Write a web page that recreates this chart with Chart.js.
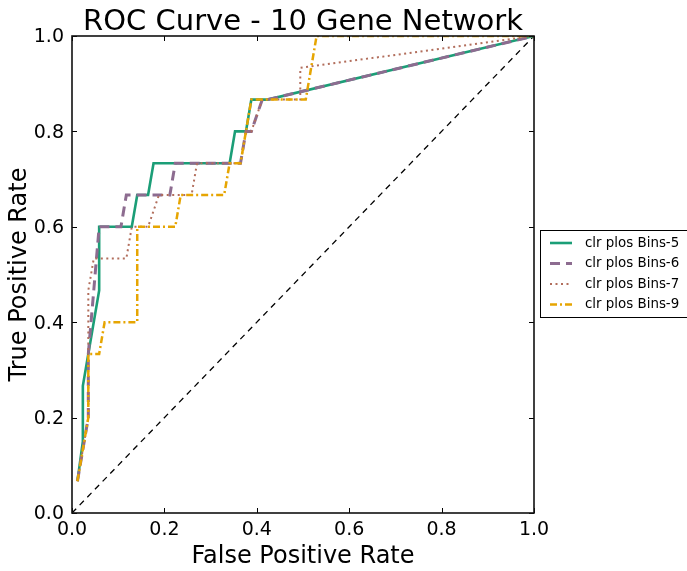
<!DOCTYPE html>
<html><head><meta charset="utf-8">
<script src="https://cdn.jsdelivr.net/npm/chart.js@4.4.0/dist/chart.umd.min.js"></script>
<style>html,body{margin:0;padding:0;background:#fff;}#wrap{width:687px;height:571px;}</style>
</head><body><div id="wrap"><canvas id="c" width="687" height="571"></canvas></div>
<script>
const titleText = 'ROC Curve - 10 Gene Network';
const xLabel = 'False Positive Rate';
const yLabel = 'True Positive Rate';
const seriesNames = ['clr plos Bins-5', 'clr plos Bins-6', 'clr plos Bins-7', 'clr plos Bins-9'];
const tickValues = [0, 0.2, 0.4, 0.6, 0.8, 1.0];

const fprBins5 = [0.0118, 0.0235, 0.0235, 0.0588, 0.0588, 0.1294, 0.1412, 0.1647, 0.1765, 0.3412, 0.3529, 0.3765, 0.3882, 0.4235, 1.0];
const tprBins5 = [0.0667, 0.15, 0.2667, 0.4667, 0.6, 0.6, 0.6667, 0.6667, 0.7333, 0.7333, 0.8, 0.8, 0.8667, 0.8667, 1.0];

const fprBins6 = [0.0118, 0.0353, 0.0353, 0.0471, 0.0588, 0.1059, 0.1176, 0.2118, 0.2235, 0.3647, 0.3765, 0.3882, 0.4118, 0.4235, 1.0];
const tprBins6 = [0.0667, 0.2, 0.3333, 0.4667, 0.6, 0.6, 0.6667, 0.6667, 0.7333, 0.7333, 0.8, 0.8, 0.8667, 0.8667, 1.0];

const fprBins7 = [0.0118, 0.0353, 0.0353, 0.0471, 0.1176, 0.1294, 0.1647, 0.1882, 0.2588, 0.2706, 0.3647, 0.3765, 0.3882, 0.4118, 0.4941, 0.4941, 1.0];
const tprBins7 = [0.0667, 0.2, 0.4667, 0.5333, 0.5333, 0.6, 0.6, 0.6667, 0.6667, 0.7333, 0.7333, 0.8, 0.8, 0.8667, 0.8667, 0.9333, 1.0];

const fprBins9 = [0.0118, 0.0353, 0.0353, 0.0588, 0.0706, 0.1412, 0.1412, 0.2235, 0.2353, 0.3294, 0.3412, 0.3647, 0.3765, 0.3882, 0.5059, 0.5294, 1.0];
const tprBins9 = [0.0667, 0.2, 0.3333, 0.3333, 0.4, 0.4, 0.6, 0.6, 0.6667, 0.6667, 0.7333, 0.7333, 0.8, 0.8667, 0.8667, 1.0, 1.0];

const chanceX = [0, 1];
const chanceY = [0, 1];

const FONT = "'DejaVu Sans', sans-serif";
const pts = (xs, ys) => xs.map((x, i) => ({x: x, y: ys[i]}));

const styles = [
  {color: '#1b9e77', width: 2.6, dash: []},
  {color: '#8d6c90', width: 3, dash: [10, 6]},
  {color: '#b26e5c', width: 2, dash: [2, 3.5]},
  {color: '#e6a502', width: 2.5, dash: [7, 3, 2, 3]}
];
const seriesData = [pts(fprBins5, tprBins5), pts(fprBins6, tprBins6), pts(fprBins7, tprBins7), pts(fprBins9, tprBins9)];

const datasets = seriesData.map((d, i) => ({
  label: seriesNames[i], data: d,
  borderColor: styles[i].color, borderWidth: styles[i].width, borderDash: styles[i].dash,
  pointRadius: 0, fill: false, tension: 0, order: 4 - i
}));
datasets.push({label: 'chance', data: pts(chanceX, chanceY), borderColor: '#000', borderWidth: 1.3,
  borderDash: [6, 5], pointRadius: 0, fill: false, order: 6});

const decor = {
  id: 'decor',
  afterDatasetsDraw(chart) {
    const ctx = chart.ctx, a = chart.chartArea;
    const xs = chart.scales.x, ys = chart.scales.y;
    ctx.save();
    ctx.strokeStyle = '#000'; ctx.lineWidth = 1; ctx.setLineDash([]);
    tickValues.forEach(v => {
      const px = Math.round(xs.getPixelForValue(v)) + 0.5;
      const py = Math.round(ys.getPixelForValue(v)) + 0.5;
      ctx.beginPath();
      ctx.moveTo(px, a.bottom); ctx.lineTo(px, a.bottom - 5);
      ctx.moveTo(px, a.top); ctx.lineTo(px, a.top + 5);
      ctx.moveTo(a.left, py); ctx.lineTo(a.left + 5, py);
      ctx.moveTo(a.right, py); ctx.lineTo(a.right - 5, py);
      ctx.stroke();
    });
    ctx.lineWidth = 1.6; ctx.strokeStyle = '#111';
    ctx.strokeRect(a.left, a.top, a.right - a.left, a.bottom - a.top);
    // title
    ctx.fillStyle = '#000';
    ctx.font = '29px ' + FONT;
    ctx.textAlign = 'center'; ctx.textBaseline = 'alphabetic';
    ctx.fillText(titleText, (a.left + a.right) / 2, 30);
    // legend
    const lx = 540, ly = 230, lh = 87;
    ctx.fillStyle = '#fff';
    ctx.fillRect(lx, ly, 160, lh);
    ctx.lineWidth = 1; ctx.strokeStyle = '#000';
    ctx.strokeRect(lx + 0.5, ly + 0.5, 160, lh);
    const rows = [243, 263.5, 284, 304.5];
    ctx.font = '13.4px ' + FONT;
    ctx.textAlign = 'left'; ctx.textBaseline = 'middle';
    seriesNames.forEach((n, i) => {
      ctx.save();
      ctx.strokeStyle = styles[i].color; ctx.lineWidth = styles[i].width;
      ctx.setLineDash(styles[i].dash);
      ctx.beginPath(); ctx.moveTo(550, rows[i]); ctx.lineTo(572, rows[i]); ctx.stroke();
      ctx.restore();
      ctx.fillStyle = '#000';
      ctx.fillText(n, 585, rows[i] + 0.5);
    });
    ctx.restore();
  }
};

new Chart(document.getElementById('c'), {
  type: 'line',
  data: {datasets: datasets},
  options: {
    responsive: false, animation: false, devicePixelRatio: 1,
    layout: {padding: {top: 36, right: 153, left: 0, bottom: 0}},
    plugins: {legend: {display: false}, title: {display: false}, tooltip: {enabled: false}},
    scales: {
      x: {
        type: 'linear', min: 0, max: 1,
        afterBuildTicks: s => { s.ticks = tickValues.map(v => ({value: v})); },
        afterFit: s => { s.height = 58; },
        ticks: {callback: v => v.toFixed(1), font: {family: FONT, size: 19}, color: '#000', padding: 6, maxRotation: 0, autoSkip: false},
        grid: {display: false, drawTicks: false},
        border: {display: false},
        title: {display: true, text: xLabel, font: {family: FONT, size: 24}, color: '#000', padding: {top: 0, bottom: 0}}
      },
      y: {
        type: 'linear', min: 0, max: 1,
        afterBuildTicks: s => { s.ticks = tickValues.map(v => ({value: v})); },
        afterFit: s => { s.width = 72; },
        ticks: {callback: v => v.toFixed(1), font: {family: FONT, size: 19}, color: '#000', padding: 8, labelOffset: 1.5, autoSkip: false},
        grid: {display: false, drawTicks: false},
        border: {display: false},
        title: {display: true, text: yLabel, font: {family: FONT, size: 24}, color: '#000', padding: {top: 5, bottom: 0}}
      }
    }
  },
  plugins: [decor]
});
</script>
</body></html>
